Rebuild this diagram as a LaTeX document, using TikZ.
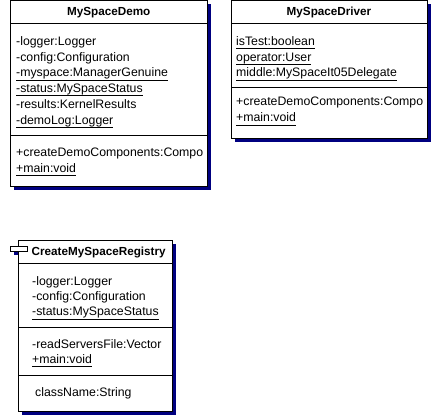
\documentclass[tikz,border=0pt]{standalone}
\usepackage{fontspec}
\setmainfont{Liberation Sans}
\definecolor{umlshadow}{RGB}{0,0,128}
% underlined (static) member: a 1pt rule a little below the baseline
\newcommand\staticmember[1]{\setbox0\hbox{#1}\rlap{\rule[-3.9pt]{\wd0}{1pt}}\box0}
\tikzset{
  classbox/.style={draw=black, fill=white, line width=1pt},
  shadowbox/.style={fill=umlshadow},
  divider/.style={draw=black, line width=1pt},
  member/.style={anchor=base west, inner sep=0pt, font=\fontsize{12.3}{14}\selectfont},
  classtitle/.style={anchor=base, inner sep=0pt, font=\fontsize{11.7}{14}\selectfont\bfseries},
  compicon/.style={draw=black, fill=white, line width=1pt},
}
\begin{document}
\begin{tikzpicture}[x=1pt,y=-1pt]
\useasboundingbox (0,0) rectangle (441,415);

% ---- MySpaceDemo ----
\fill[shadowbox] (14,4) rectangle (210.5,190);
\draw[classbox] (10.5,0.5) rectangle (207,186.5);
\draw[divider] (10.5,23) -- (207,23);
\draw[divider] (10.5,135) -- (207,135);
\node[classtitle] (demoT) at (108.75,15.3) {MySpaceDemo};
\node[member] (demoA1) at (16,45) {-logger:Logger};
\node[member] (demoA2) at (16,61) {-config:Configuration};
\node[member] (demoA3) at (16,76.7) {\staticmember{-myspace:ManagerGenuine}};
\node[member] (demoA4) at (16,92.5) {\staticmember{-status:MySpaceStatus}};
\node[member] (demoA5) at (16,108.3) {-results:KernelResults};
\node[member] (demoA6) at (16,124) {\staticmember{-demoLog:Logger}};
\node[member] (demoM1) at (16,156) {+createDemoComponents:Compo};
\node[member] (demoM2) at (16,172) {\staticmember{+main:void}};

% ---- MySpaceDriver ----
\fill[shadowbox] (234.5,4) rectangle (430.5,142);
\draw[classbox] (231,0.5) rectangle (427,138.5);
\draw[divider] (231,23) -- (427,23);
\draw[divider] (231,87.7) -- (427,87.7);
\node[classtitle] (drvT) at (329,15.3) {MySpaceDriver};
\node[member] (drvA1) at (236,45) {\staticmember{isTest:boolean}};
\node[member] (drvA2) at (236,61) {\staticmember{operator:User}};
\node[member] (drvA3) at (236,76.7) {\staticmember{middle:MySpaceIt05Delegate}};
\node[member] (drvM1) at (236,105.7) {+createDemoComponents:Compo};
\node[member] (drvM2) at (236,121.7) {\staticmember{+main:void}};

% ---- CreateMySpaceRegistry ----
\fill[shadowbox] (22,243.5) rectangle (176,415);
\fill[shadowbox] (13.5,249.5) rectangle (30.5,255);
\draw[classbox] (18.5,240) rectangle (172.5,411.5);
\draw[compicon] (10,246) rectangle (27,251.5);
\draw[divider] (18.5,263.3) -- (172.5,263.3);
\draw[divider] (18.5,327.3) -- (172.5,327.3);
\draw[divider] (18.5,375) -- (172.5,375);
\node[classtitle, anchor=base west] (regT) at (31.5,255) {CreateMySpaceRegistry};
\node[member] (regA1) at (32,285) {-logger:Logger};
\node[member] (regA2) at (32,300) {-config:Configuration};
\node[member] (regA3) at (32,315.6) {\staticmember{-status:MySpaceStatus}};
\node[member] (regM1) at (32,348.3) {-readServersFile:Vector};
\node[member] (regM2) at (32,363.3) {\staticmember{+main:void}};
\node[member] (regX1) at (35,396.6) {className:String};
\end{tikzpicture}
\end{document}
